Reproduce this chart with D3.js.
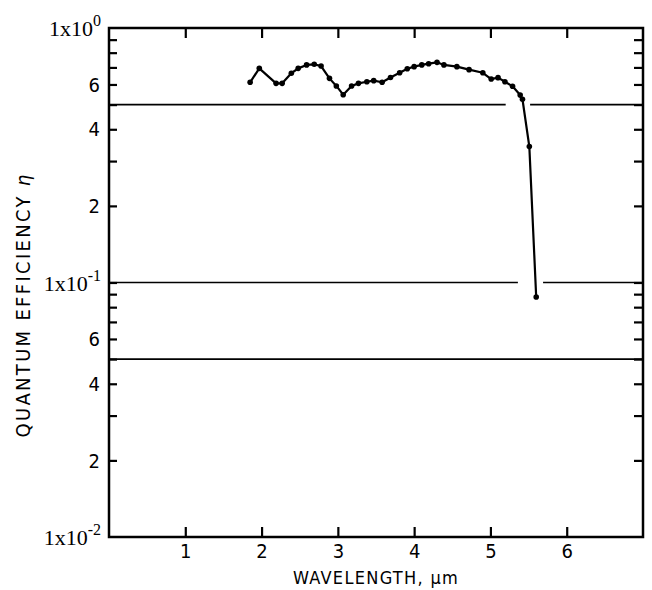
<!DOCTYPE html>
<html><head><meta charset="utf-8">
<script src="https://cdn.jsdelivr.net/npm/d3@7"></script>
<style>
body{margin:0;background:#fff;}
svg{display:block;}
.cond{font-family:"DejaVu Sans Condensed","DejaVu Sans",sans-serif;font-stretch:condensed;}
.serif{font-family:"Liberation Serif","DejaVu Serif",serif;}
</style></head>
<body><svg id="c" width="652" height="590"></svg>
<script>
// ---- data ----
const wavelength = [1.85,1.97,2.19,2.27,2.39,2.48,2.59,2.69,2.78,2.89,2.98,3.07,3.18,3.27,3.38,3.47,3.58,3.69,3.81,3.91,4.00,4.10,4.19,4.30,4.39,4.56,4.72,4.90,5.01,5.10,5.19,5.29,5.39,5.42,5.51,5.60];
const efficiency = [0.612,0.694,0.606,0.606,0.664,0.694,0.716,0.720,0.709,0.634,0.592,0.547,0.592,0.606,0.615,0.621,0.612,0.639,0.667,0.692,0.705,0.716,0.724,0.733,0.716,0.705,0.686,0.667,0.630,0.638,0.615,0.590,0.545,0.525,0.342,0.0877];
const xTicks = [1,2,3,4,5,6];
const yMinorTicks = [0.02,0.03,0.04,0.05,0.06,0.07,0.08,0.09,0.1,0.2,0.3,0.4,0.5,0.6,0.7,0.8,0.9];
const yDigitLabels = [0.02,0.04,0.06,0.2,0.4,0.6];
const yDecades = [0.01,0.1,1];
const decadeExp = ["-2","-1","0"];
const refLevel = [0.5, 0.5, 0.1, 0.1, 0.05];
const refFrom  = [0, 5.52, 0, 5.69, 0];
const refTo    = [5.20, 7, 5.36, 7, 7];

// ---- layout ----
const L=109, R=643, T=28, B=537;
const svg = d3.select("#c");
const x = d3.scaleLinear().domain([0,7]).range([L,R]);
const y = d3.scaleLog().domain([0.01,1]).range([B,T]);

// reference horizontal lines
svg.append("g").selectAll("line").data(refLevel).join("line")
  .attr("x1",(d,i)=>x(refFrom[i])).attr("x2",(d,i)=>x(refTo[i]))
  .attr("y1",d=>y(d)).attr("y2",d=>y(d))
  .attr("stroke","#000").attr("stroke-width",1.6);

// axes
const gl = svg.append("g").attr("transform",`translate(${L},0)`)
  .call(d3.axisLeft(y).tickValues(yMinorTicks).tickSize(-8).tickFormat(""));
const gr = svg.append("g").attr("transform",`translate(${R},0)`)
  .call(d3.axisRight(y).tickValues(yMinorTicks).tickSize(-9).tickFormat(""));
const gb = svg.append("g").attr("transform",`translate(0,${B})`)
  .call(d3.axisBottom(x).tickValues(xTicks).tickSize(-10).tickPadding(7).tickFormat(d3.format("d")));
const gt = svg.append("g").attr("transform",`translate(0,${T})`)
  .call(d3.axisTop(x).tickValues(xTicks).tickSize(-10).tickFormat(""));
[gl,gr,gb,gt].forEach(g=>{
  g.select(".domain").remove();
  g.selectAll(".tick line").attr("stroke","#000").attr("stroke-width",2.2);
});
gb.selectAll(".tick text").attr("class","cond").attr("font-size",20).attr("fill","#000");

// frame
svg.append("rect").attr("x",L).attr("y",T).attr("width",R-L).attr("height",B-T)
  .attr("fill","none").attr("stroke","#000").attr("stroke-width",2.5);

// y digit labels
svg.append("g").selectAll("text").data(yDigitLabels).join("text")
  .attr("class","cond").attr("font-size",20)
  .attr("x",L-9).attr("y",d=>y(d)).attr("dy","0.36em").attr("text-anchor","end")
  .text(d=>String(Math.round(d/Math.pow(10,Math.floor(Math.log10(d)+1e-9)))));

// decade labels
const dec = svg.append("g").selectAll("text").data(yDecades).join("text")
  .attr("class","serif").attr("font-size",22).attr("text-anchor","end")
  .attr("x",L-8).attr("y",d=>y(d)+8);
dec.append("tspan").text("1x10");
dec.append("tspan").attr("dy",-10).attr("font-size",16).text((d,i)=>decadeExp[i]);

// curve
const line = d3.line().x(d=>x(d[0])).y(d=>y(d[1]));
const pts = wavelength.map((w,i)=>[w,efficiency[i]]);
svg.append("path").datum(pts).attr("d",line).attr("fill","none")
  .attr("stroke","#000").attr("stroke-width",2.2).attr("stroke-linejoin","round");
svg.append("g").selectAll("circle").data(pts).join("circle")
  .attr("cx",d=>x(d[0])).attr("cy",d=>y(d[1])).attr("r",2.8).attr("fill","#000");

// axis titles
svg.append("text").attr("class","cond").attr("font-size",18).attr("letter-spacing",1.3)
  .attr("text-anchor","middle")
  .attr("x",(L+R)/2).attr("y",584).text("WAVELENGTH,  μm");
const yt = svg.append("text").attr("class","cond").attr("font-size",20).attr("letter-spacing",2.3)
  .attr("text-anchor","middle")
  .attr("transform",`translate(30,${305}) rotate(-90)`);
yt.append("tspan").text("QUANTUM EFFICIENCY ");
yt.append("tspan").attr("font-style","italic").text("η");
</script></body></html>
